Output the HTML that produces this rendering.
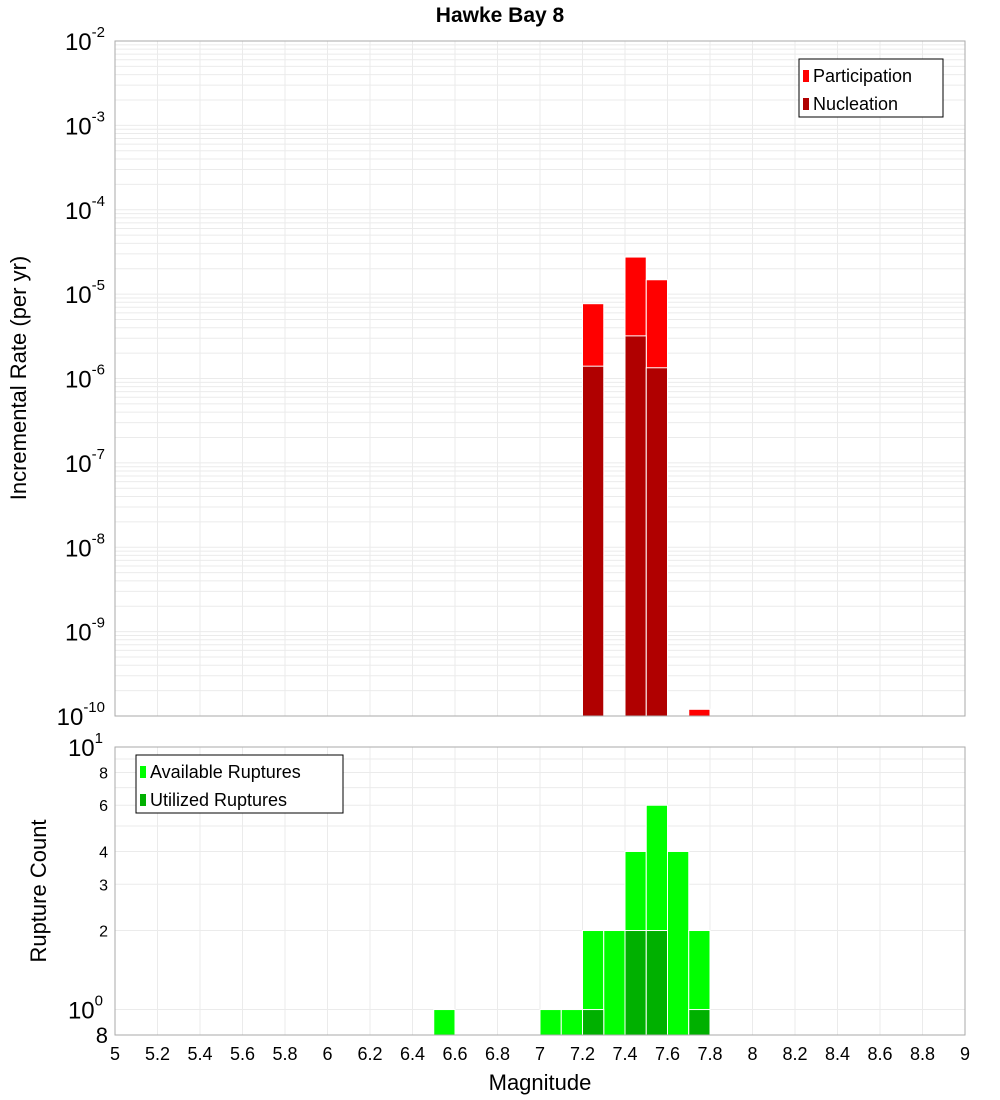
<!DOCTYPE html>
<html><head><meta charset="utf-8"><style>
body{margin:0;background:#fff}
svg{display:block;font-family:"Liberation Sans","DejaVu Sans",sans-serif}
</style></head><body>
<svg id="c" width="1000" height="1100" xmlns="http://www.w3.org/2000/svg"></svg>
<script>
const partMags=[7.25,7.45,7.55,7.75];
const partVals=[7.7e-6,2.75e-5,1.48e-5,1.2e-10];
const nuclMags=[7.25,7.45,7.55];
const nuclVals=[1.4e-6,3.2e-6,1.34e-6];
const availMags=[6.55,7.05,7.15,7.25,7.35,7.45,7.55,7.65,7.75];
const availVals=[1,1,1,2,2,4,6,4,2];
const utilMags=[7.25,7.45,7.55,7.75];
const utilVals=[1,2,2,1];
const xTicks=[5,5.2,5.4,5.6,5.8,6,6.2,6.4,6.6,6.8,7,7.2,7.4,7.6,7.8,8,8.2,8.4,8.6,8.8,9];
const topExps=[-2,-3,-4,-5,-6,-7,-8,-9,-10];
const botTicks=[2,3,4,6,8];

const svg=document.getElementById('c');
const NS='http://www.w3.org/2000/svg';
function el(t,a,p){const e=document.createElementNS(NS,t);for(const k in a)e.setAttribute(k,a[k]);(p||svg).appendChild(e);return e;}
const X0=115,X1=965;
const x=m=>X0+(m-5)/4*(X1-X0);
const T0=41,T1=716;
const yT=v=>T0+(-2-Math.log10(v))/8*(T1-T0);
const B0=747,B1=1035;
const yB=v=>B0+(1-Math.log10(v))/(1-Math.log10(0.8))*(B1-B0);

// title
const t=el('text',{x:500,y:22,'text-anchor':'middle','font-size':21,'font-weight':'bold'});


t.textContent='Hawke Bay 8';

// grids
const g=el('g',{stroke:'#ebebeb','stroke-width':1});


for(let e=-10;e<-2;e++)for(let k=1;k<10;k++){const yy=yT(k*Math.pow(10,e));el('line',{x1:X0,x2:X1,y1:yy,y2:yy},g);}
for(let k=1;k<=10;k++){const yy=yB(k);el('line',{x1:X0,x2:X1,y1:yy,y2:yy},g);}
xTicks.forEach(m=>{el('line',{x1:x(m),x2:x(m),y1:T0,y2:T1},g);el('line',{x1:x(m),x2:x(m),y1:B0,y2:B1},g);});

function bar(m,v,yf,base,fill,name){
  const r=el('rect',{x:x(m-0.05),y:yf(v),width:x(m+0.05)-x(m-0.05),height:base-yf(v),fill:fill,stroke:'#fff','stroke-width':1});
  
  
}
partMags.forEach((m,i)=>bar(m,partVals[i],yT,T1,'#ff0000','participation-bar'));
nuclMags.forEach((m,i)=>bar(m,nuclVals[i],yT,T1,'#b00000','nucleation-bar'));
availMags.forEach((m,i)=>bar(m,availVals[i],yB,B1,'#00ff00','available-bar'));
utilMags.forEach((m,i)=>bar(m,utilVals[i],yB,B1,'#00b000','utilized-bar'));

// frames
el('rect',{x:X0,y:T0,width:X1-X0,height:T1-T0,fill:'none',stroke:'#aaa'});
el('rect',{x:X0,y:B0,width:X1-X0,height:B1-B0,fill:'none',stroke:'#aaa'});

// top y labels
topExps.forEach(e=>{
  const tx=el('text',{x:105,y:yT(Math.pow(10,e))+9,'text-anchor':'end','font-size':24});
  
  
  tx.innerHTML='10<tspan dy="-13" font-size="15">'+e+'</tspan>';
});
// bottom y labels
[[10,'10','1'],[1,'10','0']].forEach(([v,b,s])=>{
  const tx=el('text',{x:103,y:yB(v)+9,'text-anchor':'end','font-size':24});
  
  
  tx.innerHTML=b+'<tspan dy="-13" font-size="15">'+s+'</tspan>';
});
botTicks.forEach(v=>{
  const tx=el('text',{x:108,y:yB(v)+6,'text-anchor':'end','font-size':16});
  
  
  tx.textContent=v;
});
const t8=el('text',{x:108,y:1043,'text-anchor':'end','font-size':22});


t8.textContent='8';

xTicks.forEach(m=>{
  const tx=el('text',{x:x(m),y:1060,'text-anchor':'middle','font-size':18});
  
  
  tx.textContent=String(m);
});
const xl=el('text',{x:540,y:1090,'text-anchor':'middle','font-size':22});


xl.textContent='Magnitude';
const yl=el('text',{x:0,y:0,'text-anchor':'middle','font-size':22,transform:'translate(26,378) rotate(-90)'});


yl.textContent='Incremental Rate (per yr)';
const yl2=el('text',{x:0,y:0,'text-anchor':'middle','font-size':22,transform:'translate(46,891) rotate(-90)'});


yl2.textContent='Rupture Count';

function legend(x0,y0,w,items,name){
  const lg=el('g',{});
  
  
  el('rect',{x:x0,y:y0,width:w,height:58,fill:'#fff',stroke:'#000'},lg);
  items.forEach((it,i)=>{
    el('rect',{x:x0+4,y:y0+11+i*28,width:6,height:12,fill:it[1]},lg);
    const tx=el('text',{x:x0+14,y:y0+23+i*28,'font-size':18},lg);
    tx.textContent=it[0];
  });
}
legend(799,59,144,[['Participation','#ff0000'],['Nucleation','#b00000']],'legend-top');
legend(136,755,207,[['Available Ruptures','#00ff00'],['Utilized Ruptures','#00b000']],'legend-bottom');
</script>
</body></html>
